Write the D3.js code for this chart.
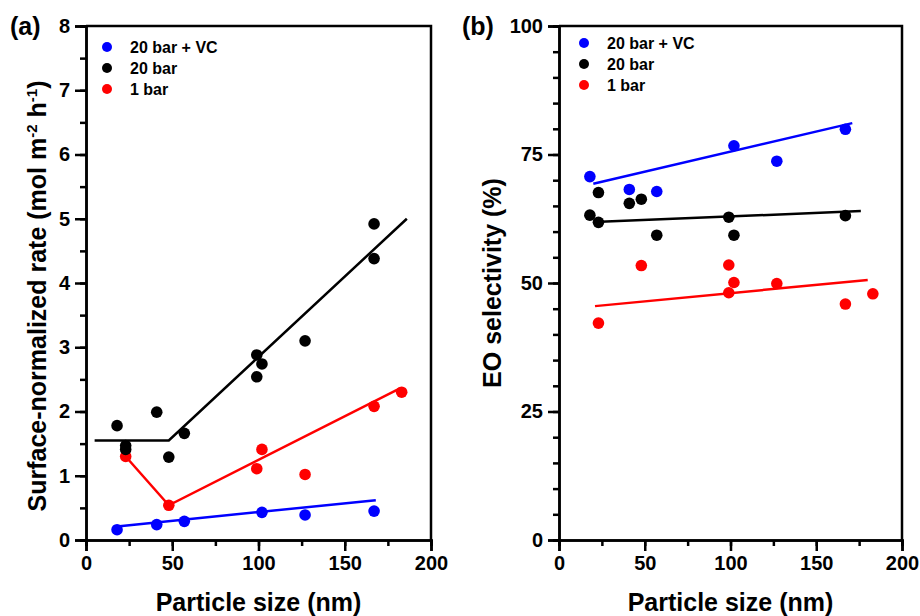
<!DOCTYPE html>
<html>
<head>
<meta charset="utf-8">
<script src="https://cdn.jsdelivr.net/npm/d3@7"></script>
<style>
  body { margin:0; background:#fff; }
  text { font-family: "Liberation Sans", Arial, sans-serif; font-weight:bold; fill:#000; }
</style>
</head>
<body>
<svg width="920" height="616"></svg>
<script>
// series names / colours
const series = ['20 bar + VC', '20 bar', '1 bar'];
const colors = ['#0000ff', '#000000', '#ff0000'];

// (a) surface-normalized rate
const sizeVC_a = [18, 41, 57, 102, 127, 167];
const rateVC   = [0.16, 0.24, 0.29, 0.43, 0.39, 0.45];
const size20_a = [18, 23, 23, 41, 48, 57, 99, 99, 102, 127, 167, 167];
const rate20   = [1.78, 1.47, 1.41, 1.99, 1.29, 1.66, 2.88, 2.54, 2.74, 3.10, 4.92, 4.38];
const size1_a  = [23, 48, 99, 102, 127, 167, 183];
const rate1    = [1.30, 0.54, 1.11, 1.41, 1.02, 2.08, 2.30];
const fitVC_a  = [[18, 0.21], [168, 0.62]];
const fit20_a  = [[5, 1.55], [48, 1.55], [186, 5.0]];
const fit1_a   = [[23, 1.30], [48, 0.54], [182, 2.36]];

// (b) EO selectivity
const sizeVC_b = [18, 41, 57, 102, 127, 167];
const selVC    = [70.7, 68.2, 67.8, 76.7, 73.7, 79.9];
const size20_b = [18, 23, 23, 41, 48, 57, 99, 102, 167];
const sel20    = [63.2, 67.6, 61.8, 65.5, 66.3, 59.3, 62.8, 59.3, 63.1];
const size1_b  = [23, 48, 99, 99, 102, 127, 167, 183];
const sel1     = [42.2, 53.4, 53.5, 48.1, 50.1, 49.9, 45.9, 47.9];
const fitVC_b  = [[20, 69.3], [171, 81.1]];
const fit20_b  = [[24, 61.9], [176, 64.0]];
const fit1_b   = [[21, 45.5], [180, 50.6]];

const xTicks = [0, 50, 100, 150, 200];
const yTicksA = [0, 1, 2, 3, 4, 5, 6, 7, 8];
const yTicksB = [0, 25, 50, 75, 100];

const svg = d3.select('svg');

function zip(xs, ys) { return xs.map((x, i) => [x, ys[i]]); }

function panel(p) {
  const x = d3.scaleLinear().domain([0, 200]).range(p.xr);
  const y = d3.scaleLinear().domain(p.yd).range([540, 26]);
  const g = svg.append('g');

  // frame top/right
  g.append('path').attr('d', `M${p.xr[0]},26H${p.xr[1]}V540`)
    .attr('fill', 'none').attr('stroke', '#000').attr('stroke-width', 2.5);

  // minor ticks
  const ax = g.append('g').attr('transform', 'translate(0,540)')
    .call(d3.axisBottom(x).tickValues(d3.range(0, 201, 25)).tickSize(6).tickFormat(''));
  const ay = g.append('g').attr('transform', `translate(${p.xr[0]},0)`)
    .call(d3.axisLeft(y).tickValues(d3.range(p.yd[0], p.yd[1] + 1e-9, p.minor)).tickSize(6).tickFormat(''));
  // major ticks with labels
  const bx = g.append('g').attr('transform', 'translate(0,540)')
    .call(d3.axisBottom(x).tickValues(xTicks).tickSize(11).tickPadding(5));
  const by = g.append('g').attr('transform', `translate(${p.xr[0]},0)`)
    .call(d3.axisLeft(y).tickValues(p.yt).tickSize(11).tickPadding(5));
  [ax, ay, bx, by].forEach(a => {
    a.selectAll('path, line').attr('stroke', '#000').attr('stroke-width', 2.5);
    a.selectAll('text').style('font-size', '20px').style('font-family', '"Liberation Sans", Arial, sans-serif')
      .style('font-weight', 'bold').attr('fill', '#000');
  });

  // fit lines
  const line = d3.line().x(d => x(d[0])).y(d => y(d[1]));
  p.fits.forEach((f, i) => {
    g.append('path').datum(f).attr('d', line).attr('fill', 'none')
      .attr('stroke', colors[i]).attr('stroke-width', 2.5);
  });

  // points (red first, blue last)
  [2, 1, 0].forEach(i => {
    g.selectAll(null).data(p.pts[i]).enter().append('circle')
      .attr('cx', d => x(d[0])).attr('cy', d => y(d[1])).attr('r', 5.8)
      .attr('fill', colors[i]);
  });

  // legend
  series.forEach((s, i) => {
    g.append('circle').attr('cx', p.lx).attr('cy', p.ly + i * 21).attr('r', 5).attr('fill', colors[i]);
    g.append('text').attr('x', p.lx + 23).attr('y', p.ly + i * 21 + 6)
      .style('font-size', '16px').text(s);
  });

  // panel label
  g.append('text').attr('x', p.labX).attr('y', 35).style('font-size', '25px').text(p.label);

  // x title
  g.append('text').attr('x', (p.xr[0] + p.xr[1]) / 2).attr('y', 611)
    .attr('text-anchor', 'middle').style('font-size', '25px').text('Particle size (nm)');

  // y title
  const yt = g.append('text').attr('text-anchor', 'middle')
    .attr('transform', `translate(${p.ytX},${p.ytY}) rotate(-90)`).style('font-size', '25px');
  p.ytitle(yt);
}

panel({
  xr: [86, 431], yd: [0, 8], yt: yTicksA, minor: 0.5,
  pts: [zip(sizeVC_a, rateVC), zip(size20_a, rate20), zip(size1_a, rate1)],
  fits: [fitVC_a, fit20_a, fit1_a],
  lx: 107, ly: 47, label: '(a)', labX: 10, ytX: 46, ytY: 296,
  ytitle: t => {
    t.append('tspan').text('Surface-normalized rate (mol m');
    t.append('tspan').attr('dy', -9).style('font-size', '15px').text('-2');
    t.append('tspan').attr('dy', 9).text(' h');
    t.append('tspan').attr('dy', -9).style('font-size', '15px').text('-1');
    t.append('tspan').attr('dy', 9).text(')');
  }
});

panel({
  xr: [559, 902], yd: [0, 100], yt: yTicksB, minor: 5,
  pts: [zip(sizeVC_b, selVC), zip(size20_b, sel20), zip(size1_b, sel1)],
  fits: [fitVC_b, fit20_b, fit1_b],
  lx: 584, ly: 43, label: '(b)', labX: 462, ytX: 501, ytY: 283,
  ytitle: t => t.text('EO selectivity (%)')
});
</script>
</body>
</html>
